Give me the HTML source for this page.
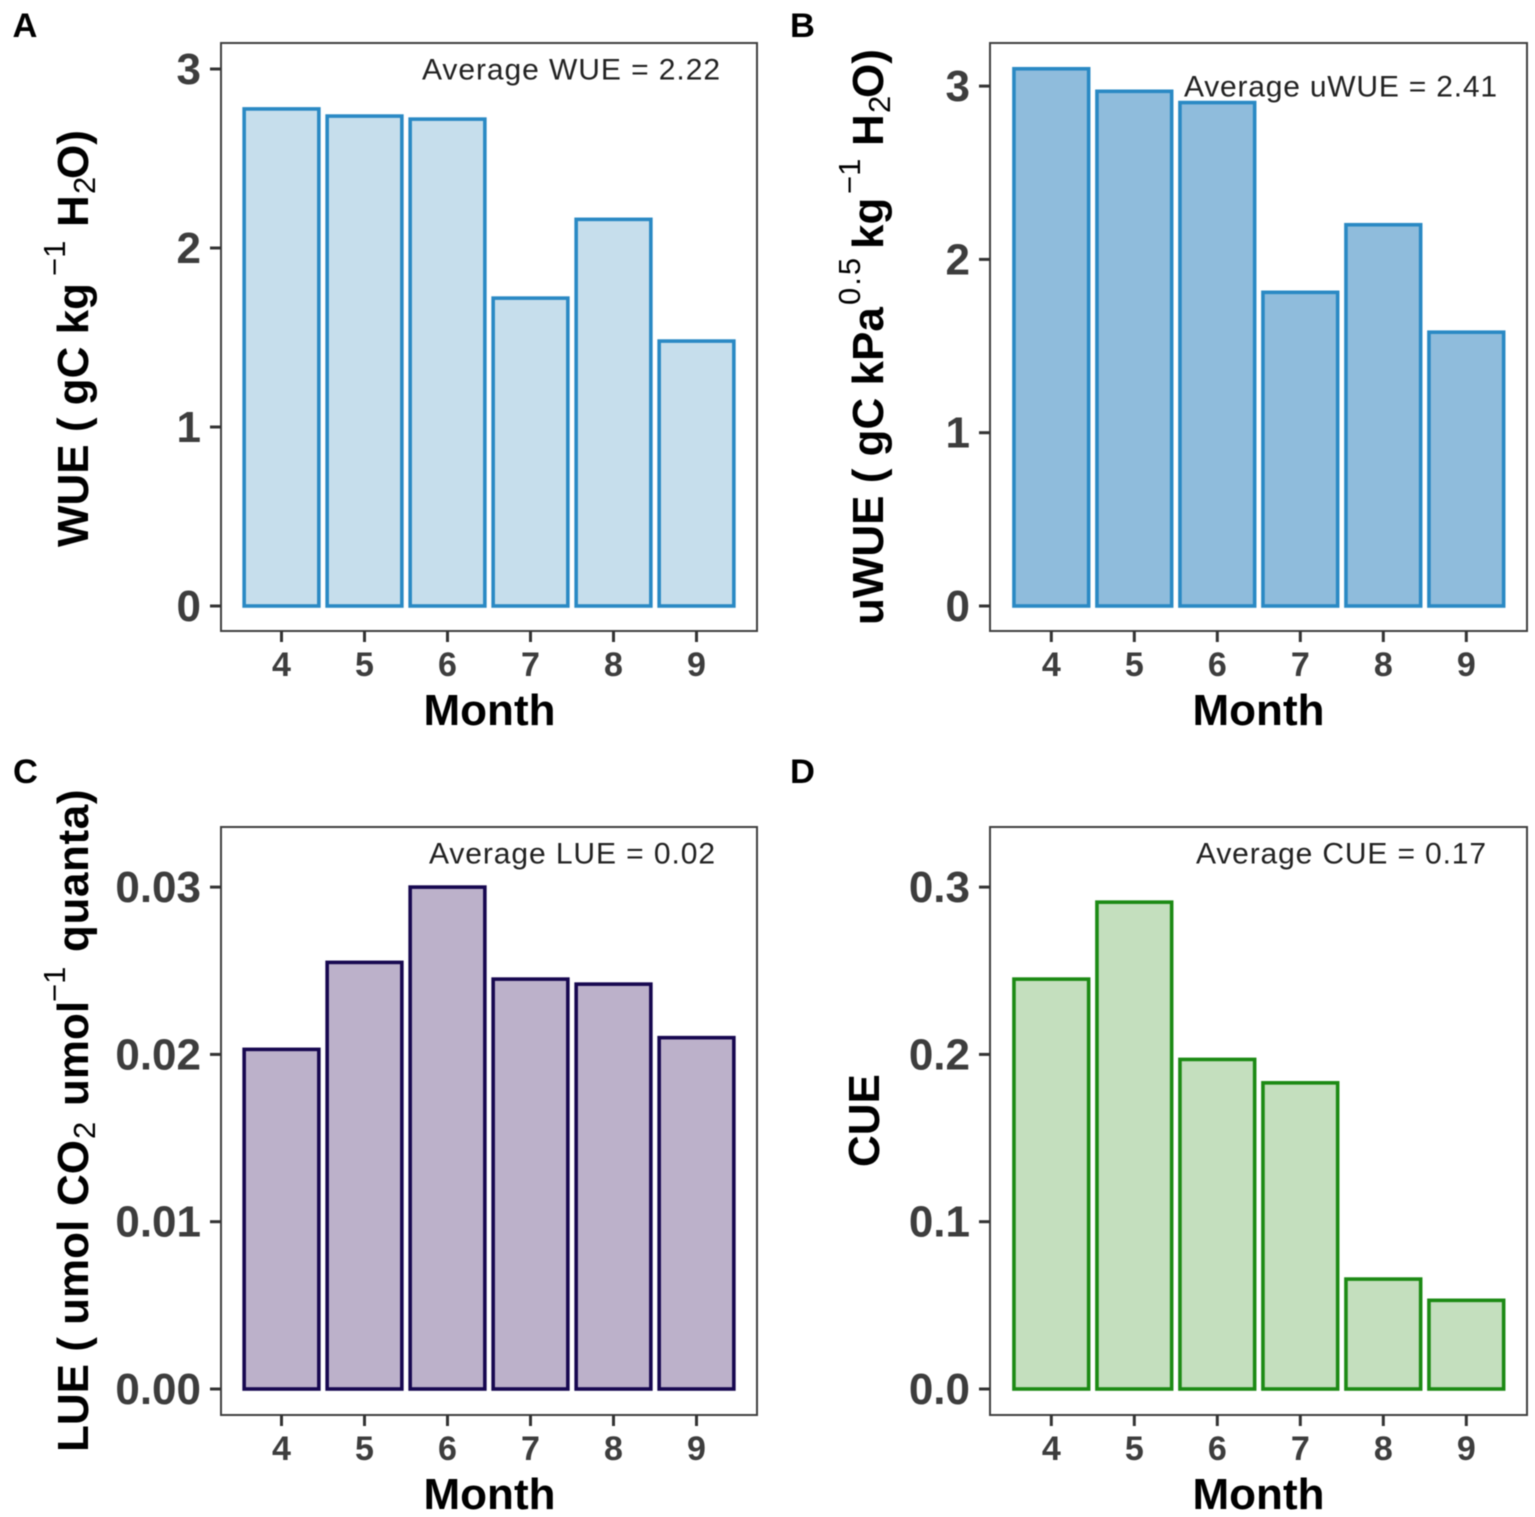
<!DOCTYPE html>
<html lang="en">
<head>
<meta charset="utf-8">
<title>Monthly efficiency bar charts</title>
<style>
html,body{margin:0;padding:0;background:#fff;width:1535px;height:1517px;overflow:hidden}
svg{display:block;filter:blur(0.5px)}
text{font-family:"Liberation Sans",Arial,sans-serif}
.panel-letter{font-size:34.5px;font-weight:700;fill:#000}
.x-title{font-size:44px;font-weight:700;fill:#000;text-anchor:middle}
.y-title{font-size:44px;font-weight:700;fill:#000}
.y-title .thin{font-weight:400;font-size:31px}
.y-title .wide{letter-spacing:2px}
.y-title .airy{letter-spacing:.6px}
.note{font-size:30px;fill:#222}
.tick-y{font-size:44px;font-weight:700;fill:#3d3d3d;text-anchor:end}
.tick-x{font-size:34px;font-weight:700;fill:#3d3d3d;text-anchor:middle}
.frame{fill:none;stroke:#404040;stroke-width:2}
</style>
</head>
<body>
<svg id="figure" xmlns="http://www.w3.org/2000/svg" width="1535" height="1517" viewBox="0 0 1535 1517">
  <rect width="1535" height="1517" fill="#ffffff"/>

  <g id="panel-a">
    <text class="panel-letter" x="12.5" y="37">A</text>
    <rect class="frame" x="221" y="43" width="536" height="588"/>
    <text class="note" x="422" y="79.5" textLength="298" lengthAdjust="spacing">Average WUE = 2.22</text>
    <text class="x-title" x="489.5" y="725">Month</text>
    <text class="y-title" transform="translate(88,547) rotate(-90)"><tspan x="0" y="0">WUE ( gC kg</tspan><tspan class="thin" x="271" y="-23">−1</tspan><tspan x="320" y="0">H</tspan><tspan class="thin" x="353" y="7">2</tspan><tspan x="368" y="0">O)</tspan></text>
  </g>

  <g id="panel-b">
    <text class="panel-letter" x="790" y="37">B</text>
    <rect class="frame" x="990" y="43" width="537" height="588"/>
    <text class="x-title" x="1258.5" y="725">Month</text>
    <text class="y-title" transform="translate(883,625) rotate(-90)"><tspan x="0" y="0">uWUE ( gC kPa</tspan><tspan class="thin wide" x="320" y="-23">0.5</tspan><tspan x="376" y="0">kg</tspan><tspan class="thin" x="431" y="-23">−1</tspan><tspan x="479" y="0">H</tspan><tspan class="thin" x="512" y="7">2</tspan><tspan x="527" y="0">O)</tspan></text>
  </g>

  <g id="panel-c">
    <text class="panel-letter" x="13" y="783">C</text>
    <rect class="frame" x="221" y="827" width="536" height="588"/>
    <text class="note" x="429" y="863.5" textLength="286" lengthAdjust="spacing">Average LUE = 0.02</text>
    <text class="x-title" x="489.5" y="1509">Month</text>
    <text class="y-title" transform="translate(88,1452) rotate(-90)"><tspan x="0" y="0">LUE ( umol</tspan><tspan x="246" y="0">CO</tspan><tspan class="thin" x="313" y="7">2</tspan><tspan x="346" y="0">umol</tspan><tspan class="thin" x="450" y="-23">−1</tspan><tspan class="airy" x="500" y="0">quanta)</tspan></text>
  </g>

  <g id="panel-d">
    <text class="panel-letter" x="790" y="783">D</text>
    <rect class="frame" x="990" y="827" width="537" height="588"/>
    <text class="note" x="1196" y="863.5" textLength="290" lengthAdjust="spacing">Average CUE = 0.17</text>
    <text class="x-title" x="1258.5" y="1509">Month</text>
    <text class="y-title" transform="translate(879,1167) rotate(-90)">CUE</text>
  </g>
</svg>
<script>
const months = ['4', '5', '6', '7', '8', '9'];
const wueValues = [2.777, 2.737, 2.72, 1.72, 2.16, 1.48];
const uwueValues = [3.10, 2.97, 2.905, 1.81, 2.20, 1.58];
const lueValues = [0.0203, 0.0255, 0.0300, 0.0245, 0.0242, 0.0210];
const cueValues = [0.245, 0.291, 0.197, 0.183, 0.0657, 0.053];
const wueTicks = ['0', '1', '2', '3'];
const uwueTicks = ['0', '1', '2', '3'];
const lueTicks = ['0.00', '0.01', '0.02', '0.03'];
const cueTicks = ['0.0', '0.1', '0.2', '0.3'];

const SVG_NS = 'http://www.w3.org/2000/svg';

function makeXAxis(firstCenter, step) {
  return function (index) { return firstCenter + step * index; };
}
function makeYAxis(zeroPixel, pixelsPerUnit) {
  return function (value) { return zeroPixel - pixelsPerUnit * value; };
}

function drawPanel(panel) {
  const group = document.getElementById(panel.groupId);
  const x = makeXAxis(panel.firstCenter, panel.step);
  const y = makeYAxis(panel.zeroPixel, panel.pixelsPerUnit);
  const barWidth = panel.step * 0.9;

  panel.values.forEach(function (value, i) {
    const bar = document.createElementNS(SVG_NS, 'rect');
    
    
    bar.setAttribute('x', x(i) - barWidth / 2);
    bar.setAttribute('y', y(value));
    bar.setAttribute('width', barWidth);
    bar.setAttribute('height', y(0) - y(value));
    bar.setAttribute('fill', panel.fill);
    bar.setAttribute('stroke', panel.stroke);
    bar.setAttribute('stroke-width', '3.6');
    group.appendChild(bar);
  });

  panel.ticks.forEach(function (label) {
    const pos = y(parseFloat(label));
    const mark = document.createElementNS(SVG_NS, 'line');
    
    
    mark.setAttribute('x1', panel.left - 11);
    mark.setAttribute('x2', panel.left);
    mark.setAttribute('y1', pos);
    mark.setAttribute('y2', pos);
    mark.setAttribute('stroke', '#333333');
    mark.setAttribute('stroke-width', '3');
    group.appendChild(mark);

    const text = document.createElementNS(SVG_NS, 'text');
    
    
    text.setAttribute('class', 'tick-y');
    text.setAttribute('x', panel.left - 20);
    text.setAttribute('y', pos + 15);
    text.textContent = label;
    group.appendChild(text);
  });

  months.forEach(function (label, i) {
    const mark = document.createElementNS(SVG_NS, 'line');
    
    
    mark.setAttribute('x1', x(i));
    mark.setAttribute('x2', x(i));
    mark.setAttribute('y1', panel.bottom);
    mark.setAttribute('y2', panel.bottom + 11);
    mark.setAttribute('stroke', '#333333');
    mark.setAttribute('stroke-width', '3');
    group.appendChild(mark);

    const text = document.createElementNS(SVG_NS, 'text');
    
    
    text.setAttribute('class', 'tick-x');
    text.setAttribute('x', x(i));
    text.setAttribute('y', panel.bottom + 45);
    text.textContent = label;
    group.appendChild(text);
  });
}

function addBNote() {
  const note = document.createElementNS(SVG_NS, 'text');
  
  
  note.setAttribute('class', 'note');
  note.setAttribute('x', '1184');
  note.setAttribute('y', '96.5');
  note.setAttribute('textLength', '313');
  note.setAttribute('lengthAdjust', 'spacing');
  note.textContent = 'Average uWUE = 2.41';
  document.getElementById('panel-b').appendChild(note);
}

drawPanel({ groupId: 'panel-a', name: 'wue', values: wueValues, ticks: wueTicks, firstCenter: 281.5, step: 83, zeroPixel: 606, pixelsPerUnit: 179, left: 221, bottom: 631, fill: '#c6deec', stroke: '#2a89c4' });
drawPanel({ groupId: 'panel-b', name: 'uwue', values: uwueValues, ticks: uwueTicks, firstCenter: 1051.3, step: 83, zeroPixel: 606, pixelsPerUnit: 173.3, left: 990, bottom: 631, fill: '#8fbcdc', stroke: '#2a89c4' });
drawPanel({ groupId: 'panel-c', name: 'lue', values: lueValues, ticks: lueTicks, firstCenter: 281.5, step: 83, zeroPixel: 1389, pixelsPerUnit: 16730, left: 221, bottom: 1415, fill: '#bcb1ca', stroke: '#170850' });
drawPanel({ groupId: 'panel-d', name: 'cue', values: cueValues, ticks: cueTicks, firstCenter: 1051.3, step: 83, zeroPixel: 1389, pixelsPerUnit: 1673, left: 990, bottom: 1415, fill: '#c4dfbe', stroke: '#1c8a14' });
addBNote();
</script>
</body>
</html>
